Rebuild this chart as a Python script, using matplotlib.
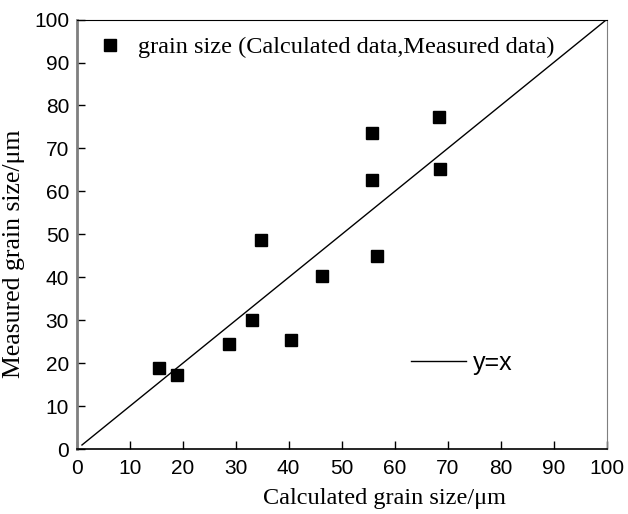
import numpy as np
import matplotlib.pyplot as plt
from matplotlib.lines import Line2D

# calculated vs measured grain size (um)
calculated = [15.5, 19.0, 28.7, 33.0, 40.5, 46.2, 56.7, 34.7, 55.7, 68.4, 55.8, 68.5]
measured = [18.8, 17.2, 24.6, 30.1, 25.5, 40.4, 44.9, 48.7, 73.5, 77.3, 62.6, 65.3]
ref_line = [1, 100]
ticks = np.arange(0, 101, 10)

serif = "Liberation Serif"
sans = "Liberation Sans"

fig = plt.figure(figsize=(6.28, 5.14), dpi=100)
ax = fig.add_axes([0.1221, 0.1259, 0.8439, 0.8361])

ax.plot(ref_line, ref_line, color="black", lw=1.0)
ax.plot(calculated, measured, ls="none", marker="s", ms=8, color="black")

ax.set_xlim(0, 100)
ax.set_ylim(0, 100)
ax.set_xticks(ticks)
ax.set_yticks(ticks)
ax.tick_params(direction="in", length=5.5, width=1, labelsize=15)
ax.tick_params(axis="x", pad=7)
ax.tick_params(axis="y", pad=5.5)
for lab in ax.get_xticklabels() + ax.get_yticklabels():
    lab.set_fontfamily(sans)

ax.spines["left"].set_color("#7f7f7f")
ax.spines["left"].set_linewidth(2)
ax.spines["bottom"].set_linewidth(1.2)
ax.spines["top"].set_linewidth(0.8)
ax.spines["right"].set_color("#7f7f7f")
ax.spines["right"].set_linewidth(0.8)

ax.set_xlabel("Calculated grain size/\u03bcm", family=serif, fontsize=17.5)
ax.set_ylabel("Measured grain size/\u03bcm", family=serif, fontsize=18.5)
ax.xaxis.set_label_coords(0.580, -0.090)
ax.yaxis.set_label_coords(-0.0975, 0.454)

pts = Line2D([], [], ls="none", marker="s", ms=8, color="black")
leg1 = ax.legend([pts], ["grain size (Calculated data,Measured data)"],
                 loc="center left", bbox_to_anchor=(0.0399, 0.9356),
                 frameon=False, borderpad=0, borderaxespad=0,
                 handlelength=1.0, handletextpad=0.65,
                 prop={"family": serif, "size": 17.5})
ax.add_artist(leg1)

ln = Line2D([], [], color="black", lw=1.0)
ax.legend([ln], ["y=x"], loc="center left", bbox_to_anchor=(0.630, 0.2007),
          frameon=False, borderpad=0, borderaxespad=0,
          handlelength=2.2, handletextpad=0.28,
          prop={"family": sans, "size": 18})

fig.savefig("out.png", dpi=100)
